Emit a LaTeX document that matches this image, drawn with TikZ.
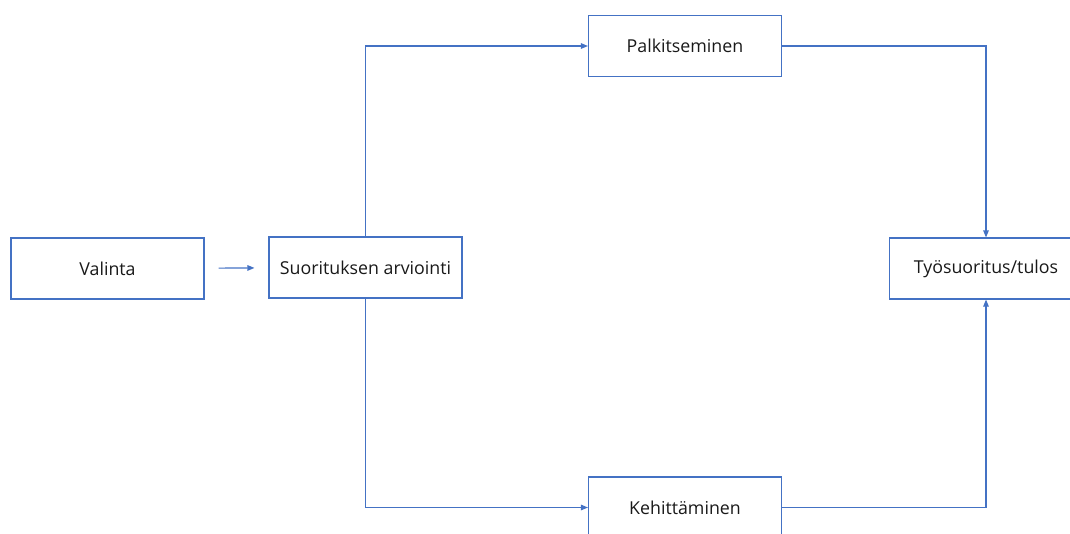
\documentclass[tikz,border=0pt]{standalone}
\usepackage{fontspec}
\setmainfont{Open Sans}
\usetikzlibrary{arrows.meta}
\definecolor{lineblue}{HTML}{4472C4}
\tikzset{
  box/.style={draw=lineblue, line width=1.1pt, minimum width=193pt, minimum height=61pt, inner sep=0pt, font=\fontsize{17.8}{20}\selectfont, text=black!90},
  arr/.style={draw=lineblue, line width=1.1pt, -{Triangle[length=7pt,width=5.5pt]}}
}
\begin{document}
\begin{tikzpicture}[x=1pt,y=-1pt]
\useasboundingbox (0,0) rectangle (1070,533);
\clip (0,0) rectangle (1070,533);
\node[box] (val) at (107.5,268.5) {Valinta};
\node[box] (suo) at (365.5,267.5) {Suorituksen arviointi};
\node[box] (pal) at (685,46) {Palkitseminen};
\node[box] (tyo) at (986,268.5) {Työsuoritus/tulos};
\node[box] (keh) at (685,507.5) {Kehittäminen};
\draw[arr, shorten <=14pt, shorten >=14pt] (val) -- (suo);
\draw[arr] (suo.north) |- (pal.west);
\draw[arr] (pal.east) -| (tyo.north);
\draw[arr] (suo.south) |- (keh.west);
\draw[arr] (keh.east) -| (tyo.south);
\end{tikzpicture}
\end{document}
